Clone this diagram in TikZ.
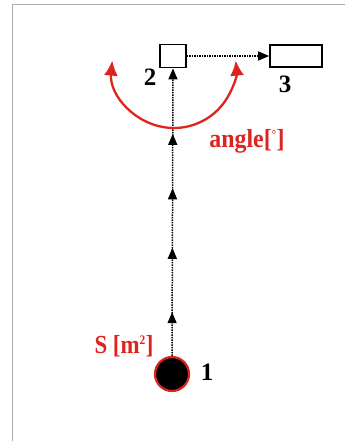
\documentclass[tikz,border=0pt]{standalone}
\usepackage{fontspec}
\setmainfont{Liberation Serif}
\usetikzlibrary{arrows.meta,decorations.markings}
\definecolor{arcred}{RGB}{222,36,30}
\tikzset{
  box/.style={draw=black, line width=1.7pt, fill=white, inner sep=0pt},
  flow/.style={densely dotted, line width=1.5pt, black},
  tipblk/.style={-{Triangle[length=11pt,width=9pt]}},
  numlbl/.style={font=\fontsize{25}{25}\selectfont\bfseries, inner sep=0pt},
  redlbl/.style={font=\fontsize{26}{26}\selectfont\bfseries, text=arcred, inner sep=0pt},
  midtips/.style={postaction={decorate, decoration={markings,
      mark=at position 0.152 with {\arrow{Triangle[length=11pt,width=9pt]}},
      mark=at position 0.376 with {\arrow{Triangle[length=11pt,width=9pt]}},
      mark=at position 0.583 with {\arrow{Triangle[length=11pt,width=9pt]}},
      mark=at position 0.772 with {\arrow{Triangle[length=11pt,width=9pt]}}}}}
}
\begin{document}
\begin{tikzpicture}[x=1pt,y=-1pt]
\useasboundingbox (0,0) rectangle (345,441);
\fill[white] (0,0) rectangle (345,441);
\draw[gray!65, line width=1pt] (12,441) -- (12,5) -- (345,5);

\node[box, minimum width=26pt, minimum height=23pt] (b2) at (173,56) {};
\node[box, minimum width=52pt, minimum height=22pt] (b3) at (296,56) {};
\node[circle, fill=black, draw=arcred, line width=2.2pt, minimum size=34pt, inner sep=0pt] (c1) at (172,374) {};

\draw[flow, tipblk, midtips] (c1.north) -- (b2.south);
\draw[flow, tipblk] (b2.east) -- (b3.west);

\coordinate (ac) at (174,66);
\draw[arcred, line width=2.3pt, {Latex[length=15pt,width=14pt]}-{Latex[length=15pt,width=14pt]}]
  ([shift={(185:62)}]ac) arc[start angle=185, end angle=-5, radius=62];

\node[numlbl] (l1) at (207,372) {1};
\node[numlbl] (l2) at (150,77) {2};
\node[numlbl] (l3) at (285,84) {3};
\node[redlbl] (ls) at (124,346) {\scalebox{0.88}[1]{S [m\textsuperscript{\fontsize{13}{13}\selectfont 2}]}};
\node[redlbl] (la) at (247,141) {\scalebox{0.92}[1]{angle[\textsuperscript{\fontsize{12}{12}\selectfont °}]}};
\end{tikzpicture}
\end{document}
